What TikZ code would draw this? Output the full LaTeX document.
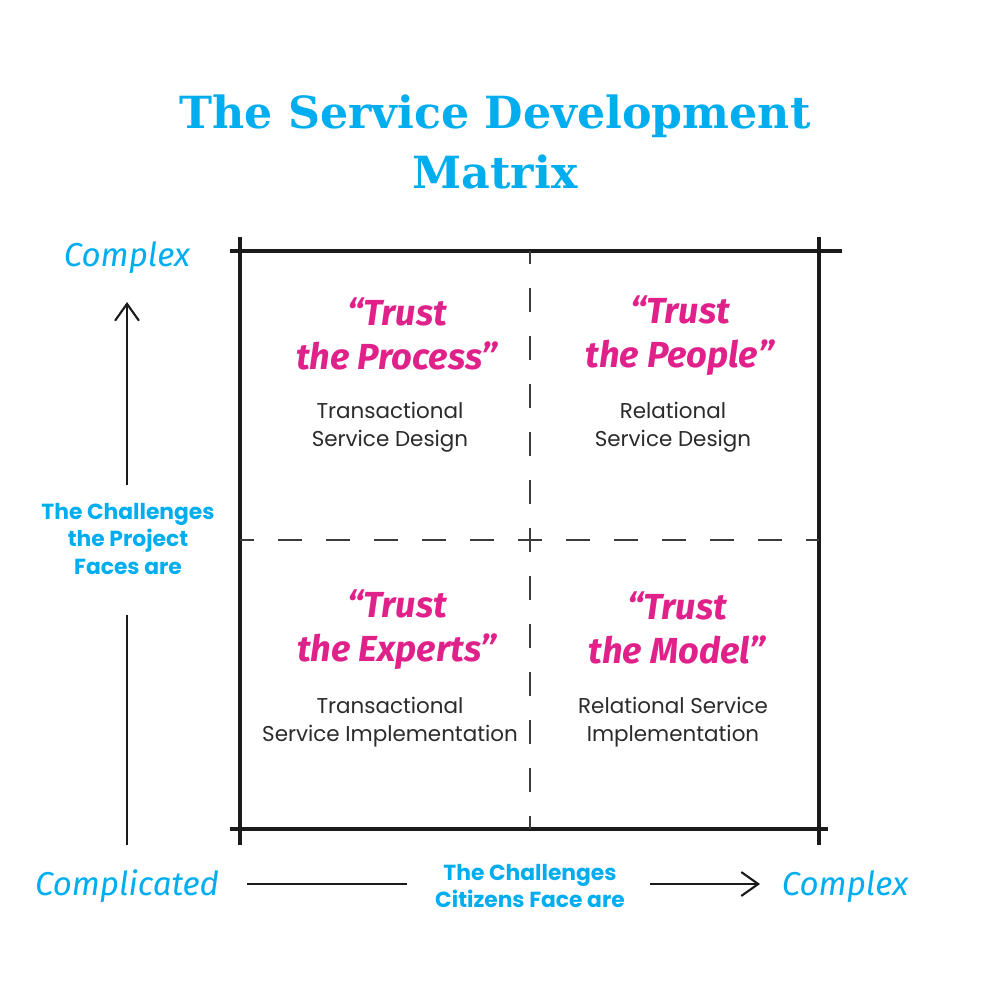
\documentclass[tikz,border=0pt]{standalone}
\usepackage{fontspec}
\setmainfont{Poppins}
\newfontfamily\titlefont{DejaVu Serif}
\newfontfamily\handfont{Fira Sans}
\usetikzlibrary{arrows.meta,positioning}

\definecolor{matrixblue}{HTML}{00AEEF}
\definecolor{trustpink}{HTML}{E0218A}
\definecolor{inktext}{HTML}{2B2B2B}
\definecolor{inkline}{HTML}{1A1A1A}

\begin{document}
\begin{tikzpicture}[x=0.01cm,y=-0.01cm,
  frame/.style={line width=1.3pt,color=inkline},
  divider/.style={line width=0.6pt,color=inkline!85,dash pattern=on 6.83pt off 6.83pt},
  axis/.style={line width=0.6pt,color=inkline},
  barb/.style={-{Straight Barb[length=4.8pt,width=6.8pt]}},
  trust/.style={text=trustpink,font=\handfont\bfseries\itshape\fontsize{10.3}{12.5}\selectfont,align=center},
  kind/.style={text=inktext,font=\fontsize{6.1}{8}\selectfont,align=center},
  challenge/.style={text=matrixblue,font=\bfseries\fontsize{6.2}{7.7}\selectfont,align=center},
  pole/.style={text=matrixblue,font=\handfont\itshape\fontsize{9.4}{11}\selectfont}]
\useasboundingbox[fill=white] (0,0) rectangle (1000,1000);

% title
\node[text=matrixblue,font=\titlefont\bfseries\fontsize{12.6}{16.8}\selectfont,align=center] (title) at (495,142) {The Service Development\\Matrix};

% frame
\draw[frame] (230,251) -- (842,251);
\draw[frame] (230,829) -- (828,829);
\draw[frame] (240,237) -- (240,845);
\draw[frame] (819,237) -- (819,845);

% dividers
\draw[divider,dash phase=2.85pt] (240,540) -- (819,540);
\draw[divider,dash phase=3.13pt] (530,251) -- (530,829);

% quadrants
\node[trust] (process) at (397,334) {“Trust\\the Process”};
\node[kind] (tsd) at (390,427) {Transactional\\Service Design};
\node[trust] (people) at (680,336) {“Trust\\the People”};
\node[kind] (rsd) at (673,427) {Relational\\Service Design};
\node[trust] (experts) at (397,630) {“Trust\\the Experts”};
\node[kind] (tsi) at (390,722) {Transactional\\Service Implementation};
\node[trust] (model) at (677,628) {“Trust\\the Model”};
\node[kind] (rsi) at (673,722) {Relational Service\\Implementation};

% vertical axis
\node[pole] (complexup) at (127,258) {Complex};
\node[challenge] (project) at (128,539) {The Challenges\\the Project\\Faces are};
\node[pole] (complicated) at (127,886) {Complicated};
\coordinate (upfoot) at (127,845);
\coordinate (upgap) at (127,615);
\coordinate (upstart) at (127,485);
\coordinate (uptip) at (127,302);
\draw[axis] (upfoot) -- (upgap);
\draw[axis,barb] (upstart) -- (uptip);

% horizontal axis
\node[challenge] (citizens) at (530,886) {The Challenges\\Citizens Face are};
\node[pole] (complexright) at (845,887) {Complex};
\coordinate (rightfoot) at (247,884);
\coordinate (rightgap) at (407,884);
\coordinate (rightstart) at (650,884);
\coordinate (righttip) at (760,884);
\draw[axis] (rightfoot) -- (rightgap);
\draw[axis,barb] (rightstart) -- (righttip);
\end{tikzpicture}
\end{document}
